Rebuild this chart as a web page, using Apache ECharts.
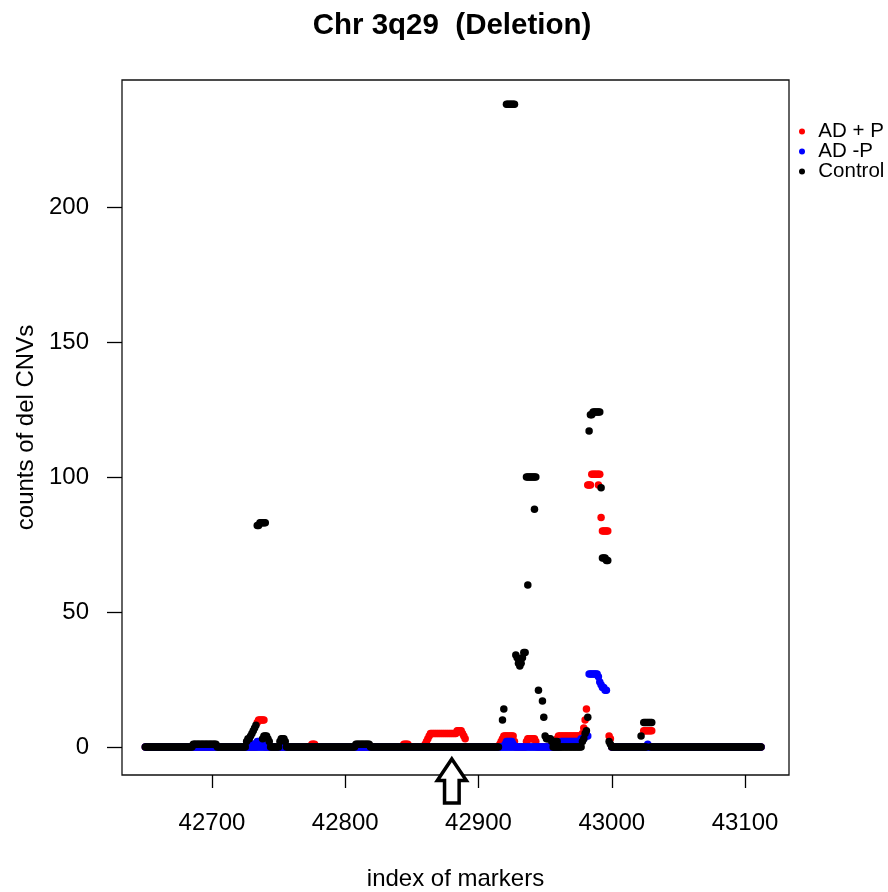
<!DOCTYPE html>
<html>
<head>
<meta charset="utf-8">
<script src="https://cdn.jsdelivr.net/npm/echarts@6/dist/echarts.min.js"></script>
<style>
html,body{margin:0;padding:0;background:#fff;}
#chart{width:888px;height:892px;}
</style>
</head>
<body>
<div id="chart"></div>
<script>
// ---- data ----
const chartTitle = 'Chr 3q29  (Deletion)';
const seriesNames = ['AD + P', 'AD -P', 'Control'];
const seriesColors = ['#ff0000', '#0000ff', '#000000'];
const xTicks = [42700, 42800, 42900, 43000, 43100];
const yTicks = [0, 50, 100, 150, 200];
const arrowAt = 42880;

// runs: [first marker index, last marker index, count]
const adPlusRuns = [
  [42650, 42733, 0], [42734, 42734, 9], [42735, 42739, 10], [42740, 42774, 0],
  [42775, 42777, 1], [42778, 42843, 0], [42844, 42847, 1], [42848, 42859, 0],
  [42860, 42860, 1], [42861, 42861, 2], [42862, 42862, 3], [42863, 42863, 4],
  [42864, 42883, 5], [42884, 42887, 6], [42888, 42888, 5], [42889, 42889, 4],
  [42890, 42890, 3], [42891, 42915, 0], [42916, 42916, 1], [42917, 42917, 2],
  [42918, 42918, 3], [42919, 42926, 4], [42927, 42927, 2], [42928, 42935, 0],
  [42936, 42936, 2], [42937, 42942, 3], [42943, 42943, 2], [42944, 42958, 0],
  [42959, 42959, 3], [42960, 42977, 4], [42978, 42978, 5], [42979, 42979, 7],
  [42980, 42980, 10], [42981, 42981, 14], [42982, 42984, 97], [42985, 42991, 101],
  [42990, 42990, 97], [42992, 42992, 85], [42993, 42997, 80], [42998, 42998, 4],
  [42999, 42999, 3], [43000, 43023, 0], [43024, 43030, 6], [43031, 43112, 0]
];
const adMinusRuns = [
  [42650, 42917, 0], [42731, 42733, 1], [42734, 42736, 2], [42737, 42738, 1],
  [42918, 42961, 0], [42920, 42920, 1], [42921, 42925, 2], [42926, 42926, 1],
  [42962, 42976, 2], [42977, 42979, 3], [42980, 42982, 4], [42983, 42989, 27],
  [42990, 42990, 26], [42991, 42991, 24], [42992, 42992, 23], [42993, 42994, 22],
  [42995, 42996, 21], [43000, 43112, 0], [43027, 43027, 1]
];
const controlRuns = [
  [42650, 42685, 0], [42686, 42703, 1], [42704, 42725, 0], [42726, 42726, 2],
  [42727, 42728, 3], [42729, 42729, 4], [42730, 42730, 5], [42731, 42731, 6],
  [42732, 42732, 7], [42733, 42733, 8], [42734, 42735, 82], [42736, 42740, 83],
  [42738, 42738, 3], [42739, 42741, 4], [42742, 42742, 3], [42743, 42743, 2],
  [42744, 42750, 0], [42751, 42751, 2], [42752, 42754, 3], [42755, 42755, 2],
  [42756, 42807, 0], [42808, 42818, 1], [42819, 42915, 0], [42918, 42918, 10],
  [42919, 42919, 14], [42921, 42927, 238], [42928, 42928, 34], [42929, 42929, 33],
  [42930, 42930, 31], [42931, 42931, 30], [42932, 42932, 31], [42933, 42933, 33],
  [42934, 42935, 35], [42936, 42943, 100], [42937, 42937, 60], [42942, 42942, 88],
  [42945, 42945, 21], [42948, 42948, 17], [42949, 42949, 11], [42950, 42950, 4],
  [42951, 42954, 3], [42955, 42955, 2], [42956, 42977, 0], [42957, 42959, 2],
  [42978, 42978, 2], [42979, 42979, 3], [42980, 42980, 5], [42981, 42981, 6],
  [42982, 42982, 11], [42983, 42983, 117], [42984, 42985, 123], [42986, 42991, 124],
  [42992, 42992, 96], [42993, 42995, 70], [42996, 42997, 69], [42998, 42998, 2],
  [42999, 42999, 1], [43000, 43026, 0], [43022, 43022, 4], [43024, 43030, 9],
  [43029, 43112, 0]
];

// ---- build ----
function expandRuns(runs) {
  const pts = [];
  runs.forEach(function (r) {
    for (let x = r[0]; x <= r[1]; x++) pts.push([x, r[2]]);
  });
  return pts;
}
const allRuns = [adPlusRuns, adMinusRuns, controlRuns];
const FONT = '"Liberation Sans", Arial, Helvetica, sans-serif';

const chart = echarts.init(document.getElementById('chart'), null, {renderer: 'canvas'});

const option = {
  animation: false,
  backgroundColor: '#ffffff',
  grid: {
    left: 122, right: 99, top: 80, bottom: 117,
    outerBoundsMode: 'none', containLabel: false,
    show: true, borderColor: '#111', borderWidth: 1.3, backgroundColor: 'transparent'
  },
  xAxis: {
    type: 'value', min: 42632.5, max: 43133,
    axisLine: {show: false, onZero: false},
    splitLine: {show: false},
    axisTick: {show: true, inside: false, customValues: xTicks, length: 13, lineStyle: {color: '#000', width: 1.3}},
    axisLabel: {customValues: xTicks, margin: 36, fontSize: 24, color: '#000', fontFamily: FONT,
      formatter: function (v) { return String(v); }},
    name: 'index of markers', nameLocation: 'middle', nameGap: 92,
    nameTextStyle: {fontSize: 24, color: '#000', fontFamily: FONT}
  },
  yAxis: {
    type: 'value', min: -10.4, max: 247,
    axisLine: {show: false, onZero: false},
    splitLine: {show: false},
    axisTick: {show: true, inside: false, customValues: yTicks, length: 15, lineStyle: {color: '#000', width: 1.3}},
    axisLabel: {customValues: yTicks, margin: 33, fontSize: 24, color: '#000', fontFamily: FONT,
      formatter: function (v) { return String(v); }},
    name: 'counts of del CNVs', nameLocation: 'middle', nameGap: 76, nameRotate: 90,
    nameTextStyle: {fontSize: 24, color: '#000', fontFamily: FONT}
  },
  legend: {
    orient: 'vertical', left: 799, top: 121, padding: 0, itemGap: -1,
    itemWidth: 22.6, itemHeight: 6, icon: 'circle',
    selectedMode: false,
    textStyle: {fontSize: 20.5, lineHeight: 20, color: '#000', fontFamily: FONT},
    data: seriesNames
  },
  series: seriesNames.map(function (name, i) {
    return {
      name: name,
      type: 'scatter',
      symbol: 'circle',
      symbolSize: 7.5,
      itemStyle: {color: seriesColors[i], opacity: 1},
      emphasis: {disabled: true},
      data: expandRuns(allRuns[i])
    };
  })
};
chart.setOption(option);

// title and the hollow arrow annotation (anchored through the axis scales)
const anchor = chart.convertToPixel({gridIndex: 0}, [arrowAt, 0]);
const ax = anchor[0], ay = anchor[1];
chart.setOption({
  graphic: [
    {
      type: 'text', x: 452, y: 26,
      style: {text: chartTitle, font: 'bold 29.5px ' + FONT, fill: '#000',
        textAlign: 'center', textVerticalAlign: 'middle'}
    },
    {
      type: 'polygon', z: 100,
      shape: {points: [
        [ax, ay + 12], [ax + 14.5, ay + 33.5], [ax + 7.3, ay + 33.5], [ax + 7.3, ay + 56],
        [ax - 7.3, ay + 56], [ax - 7.3, ay + 33.5], [ax - 14.5, ay + 33.5]
      ]},
      style: {fill: '#fff', stroke: '#000', lineWidth: 3.5, lineJoin: 'miter'}
    }
  ]
});
</script>
</body>
</html>
